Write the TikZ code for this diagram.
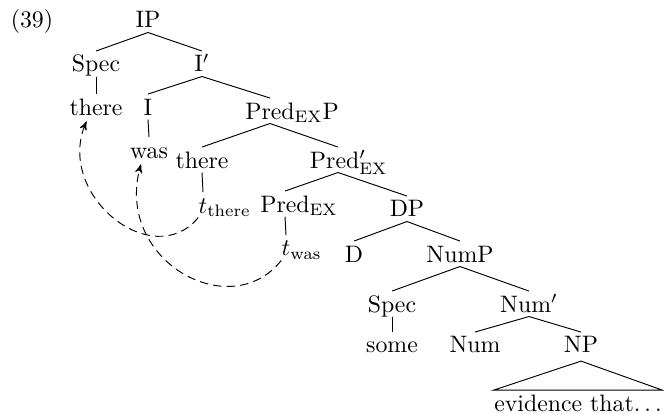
\documentclass[tikz,border=0pt]{standalone}
\usetikzlibrary{arrows}

\begin{document}
\begin{tikzpicture}[x=0.42pt, y=-0.42pt,
    lbl/.style={anchor=base, inner xsep=0pt, inner ysep=1.7pt, text height=6.9pt, text depth=0pt},
    moved/.style={->, >=stealth', dash pattern=on 3.5pt off 2.2pt}]
  \useasboundingbox (0,0) rectangle (664,414);

  \node[lbl] (exno) at (32,28) {(39)};
  \node[lbl] (ip) at (148,28) {IP};
  \node[lbl] (specA) at (96,72) {Spec};
  \node[lbl] (ibar) at (202,72) {I$'$};
  \node[lbl] (thereA) at (96,115) {there};
  \node[lbl] (infl) at (148,115) {I};
  \node[lbl] (predp) at (270,119) {Pred\rlap{$_{\mathrm{EX}}$P}};
  \node[lbl] (was) at (149,158) {was};
  \node[lbl] (thereB) at (202,168) {there};
  \node[lbl] (predbar) at (338,168) {Pred\rlap{$'_{\mathrm{EX}}$}\phantom{$'$}};
  \node[lbl] (tthere) at (203,213) {$t$\rlap{$_{\mathrm{there}}$}};
  \node[lbl] (predx) at (285,212) {Pred\rlap{$_{\mathrm{EX}}$}};
  \node[lbl] (dp) at (407,217) {DP};
  \node[lbl] (twas) at (286,256) {$t$\rlap{$_{\mathrm{was}}$}};
  \node[lbl] (det) at (354,262) {D};
  \node[lbl] (nump) at (460,262) {NumP};
  \node[lbl] (specB) at (392,312) {Spec};
  \node[lbl] (numbar) at (529,312) {Num$'$};
  \node[lbl] (some) at (392,353) {some};
  \node[lbl] (num) at (475,353) {Num};
  \node[lbl] (np) at (581,353) {NP};
  \node[lbl] (evid) at (578,411) {evidence that$\ldots$};

  \foreach \a/\b in {ip/specA, ip/ibar, specA/thereA, ibar/infl, ibar/predp,
      infl/was, predp/thereB, predp/predbar, thereB/tthere, predbar/predx,
      predbar/dp, predx/twas, dp/det, dp/nump, nump/specB, nump/numbar,
      specB/some, numbar/num, numbar/np}
    \draw (\a.south) -- (\b.north);
  \draw ([yshift=-1.5pt]np.south) -- (evid.north west) -- (evid.north east) -- cycle;

  % movement arrows
  \draw[moved] (tthere.south west) .. controls (153,273) and (55,195) .. ([xshift=-4pt,yshift=-0.8pt]thereA.south);
  \draw[moved] (twas.south west) .. controls (230,325) and (114,260) .. ([xshift=-3.4pt,yshift=-0.8pt]was.south);
\end{tikzpicture}
\end{document}
